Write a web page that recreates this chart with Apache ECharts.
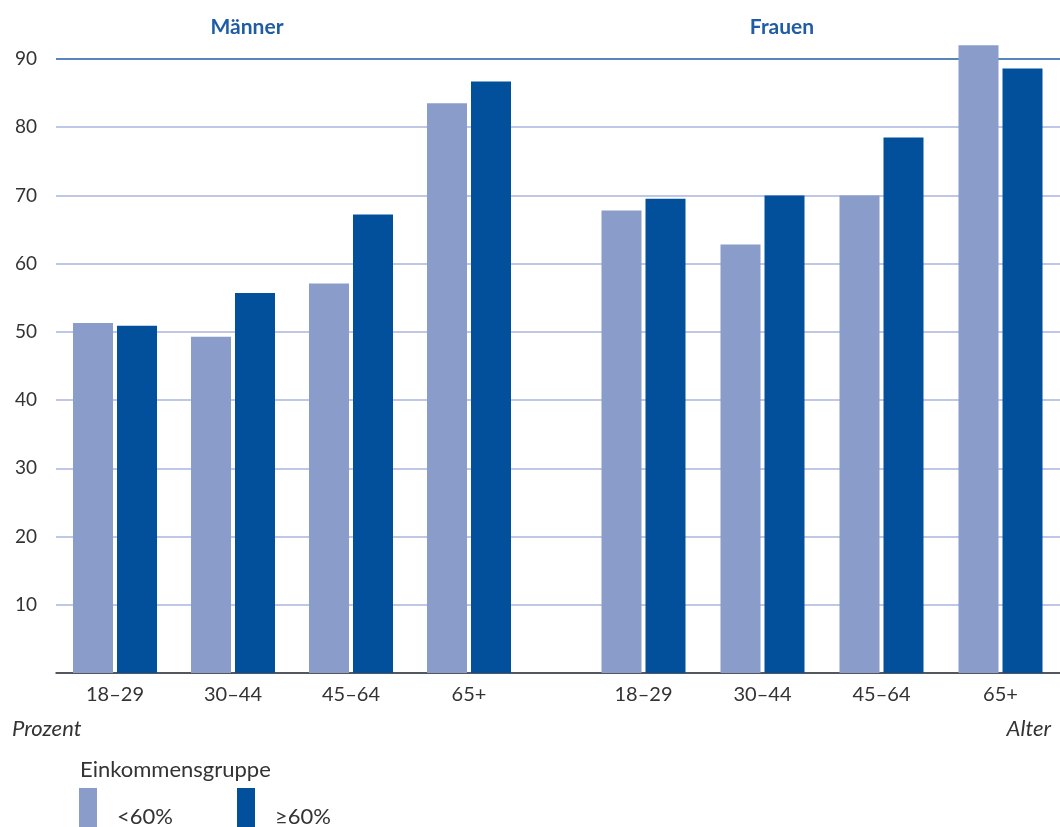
<!DOCTYPE html>
<html><head><meta charset="utf-8">
<script src="https://cdn.jsdelivr.net/npm/echarts@6/dist/echarts.min.js"></script>
<style>html,body{margin:0;padding:0;background:#fff}#c{width:1060px;height:827px}</style>
</head><body><div id="c"></div>
<script>
const ageGroups = ['18–29', '30–44', '45–64', '65+'];
const menLow  = [51.3, 49.3, 57.1, 83.5];
const menHigh = [50.9, 55.7, 67.2, 86.7];
const womenLow  = [67.8, 62.8, 70.0, 92.0];
const womenHigh = [69.5, 70.0, 78.5, 88.6];
const yTicks = [0, 10, 20, 30, 40, 50, 60, 70, 80, 90];
const seriesNames = ['<60%', '≥60%'];
const groupTitles = ['Männer', 'Frauen'];

const LIGHT = '#8a9cc9', DARK = '#02509b';
const zeroY = 673, topY = 59;
const pxPerUnit = (zeroY - topY) / yTicks[yTicks.length - 1];
const barMax = 95;
const barTop = zeroY - barMax * pxPerUnit;
const bottom = 827 - zeroY;
const font = 'Lato, "Open Sans", sans-serif';

const chart = echarts.init(document.getElementById('c'));
const nLines = yTicks.length;
const lineColors = yTicks.map((v, i) => i === nLines - 1 ? '#1f5ca6' : '#a9b5dc');

const catAxis = (gi) => ({
  type: 'category', gridIndex: gi, data: ageGroups,
  axisLine: { show: false }, axisTick: { show: false },
  axisLabel: { fontFamily: font, fontSize: 20, color: '#333', margin: 12 }
});
const hidY = (gi) => ({
  type: 'value', gridIndex: gi, min: 0, max: barMax,
  axisLine: { show: false }, axisTick: { show: false },
  axisLabel: { show: false }, splitLine: { show: false }
});
const barS = (name, data, gi, color) => ({
  type: 'bar', name, data, xAxisIndex: gi, yAxisIndex: gi,
  barWidth: 40, barGap: '10%', itemStyle: { color }, silent: true
});
const legendAt = (name, left) => ({
  data: [name], left, top: 788, padding: 0,
  itemWidth: 18, itemHeight: 42, icon: 'rect', selectedMode: false,
  formatter: '{t|{name}}',
  textStyle: { color: '#333',
    rich: { t: { fontFamily: font, fontSize: 22, color: '#333', padding: [16, 0, 0, 15] } } }
});

chart.setOption({
  animation: false,
  grid: [
    { left: 56, right: 0, top: topY, bottom: bottom },
    { left: 56, width: 472, top: barTop, bottom: bottom },
    { left: 584, width: 476, top: barTop, bottom: bottom }
  ],
  xAxis: [
    { type: 'category', gridIndex: 0, data: [''],
      axisLine: { lineStyle: { color: '#333', width: 1.5 } },
      axisTick: { show: false }, axisLabel: { show: false } },
    catAxis(1), catAxis(2)
  ],
  yAxis: [
    { type: 'value', gridIndex: 0, min: 0, max: yTicks[nLines - 1], interval: 10,
      axisLine: { show: false }, axisTick: { show: false },
      axisLabel: { fontFamily: font, fontSize: 19, color: '#333', margin: 19,
        verticalAlign: 'middle', padding: [0, 0, 5, 0],
        formatter: v => (v === 0 ? '' : String(v)) },
      splitLine: { lineStyle: { color: lineColors, width: 1.5 } } },
    hidY(1), hidY(2)
  ],
  legend: [legendAt(seriesNames[0], 79), legendAt(seriesNames[1], 237)],
  graphic: [
    { type: 'text', style: { text: groupTitles[0], x: 247, y: 27,
      textAlign: 'center', textVerticalAlign: 'middle',
      font: 'bold 21px ' + font, fill: '#1f5ca6' } },
    { type: 'text', style: { text: groupTitles[1], x: 782, y: 27,
      textAlign: 'center', textVerticalAlign: 'middle',
      font: 'bold 21px ' + font, fill: '#1f5ca6' } },
    { type: 'text', style: { text: 'Prozent', x: 12, y: 729, textVerticalAlign: 'middle',
      font: 'italic 22px ' + font, fill: '#333' } },
    { type: 'text', style: { text: 'Alter', x: 1051, y: 729, textAlign: 'right', textVerticalAlign: 'middle',
      font: 'italic 22px ' + font, fill: '#333' } },
    { type: 'text', style: { text: 'Einkommensgruppe', x: 80, y: 770, textVerticalAlign: 'middle',
      font: '22px ' + font, fill: '#333' } }
  ],
  series: [
    barS(seriesNames[0], menLow, 1, LIGHT),
    barS(seriesNames[1], menHigh, 1, DARK),
    barS(seriesNames[0], womenLow, 2, LIGHT),
    barS(seriesNames[1], womenHigh, 2, DARK)
  ]
});
</script></body></html>
